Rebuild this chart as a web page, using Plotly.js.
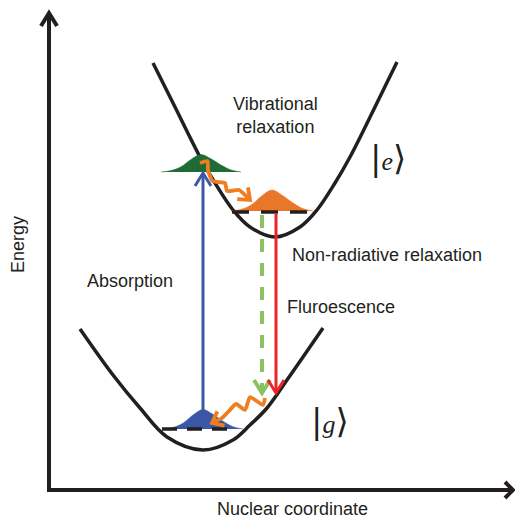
<!DOCTYPE html>
<html><head><meta charset="utf-8">
<script src="https://cdn.plot.ly/plotly-3.0.1.min.js"></script>
<style>html,body{margin:0;padding:0;background:#fff}</style>
</head><body><div id="chart" style="width:515px;height:519px"></div>
<script>
// ---- data (nuclear coordinate, energy) in arbitrary units ----
const excitedX = [2.08, 2.52, 3.02, 3.32, 3.68, 4.02, 4.52, 5.02, 5.36, 5.72, 6.02, 6.52, 6.96];
const excitedE = [8.54, 7.66, 6.66, 6.14, 5.60, 5.26, 5.06, 5.26, 5.60, 6.14, 6.66, 7.66, 8.56];
const groundX  = [0.62, 1.28, 1.82, 2.36, 3.08, 3.68, 4.02, 4.36, 4.76, 5.48];
const groundE  = [3.22, 2.30, 1.64, 1.06, 0.80, 1.00, 1.30, 1.64, 2.20, 3.24];

// vibrational levels [x0, x1, E]
const excitedLevel = [3.66, 5.18, 5.56];
const groundLevel  = [2.26, 3.62, 1.22];

// wavepacket profile (fraction of half width, fraction of peak)
const packetDx = [-1, -0.75, -0.5, -0.25, 0, 0.25, 0.5, 0.75, 1];
const packetH  = [0, 0.08, 0.3, 0.72, 1, 0.75, 0.4, 0.12, 0];
// packets: center, base energy, height, half width
const greenPacket  = [3.04, 6.36, 0.35, 0.80];
const orangePacket = [4.46, 5.58, 0.42, 0.82];
const bluePacket   = [3.08, 1.22, 0.39, 0.80];

// vertical transitions [x, E from, E to]
const absorption   = [3.08, 1.60, 6.34];
const fluorescence = [4.54, 5.54, 1.94];
const nonRadiative = [4.26, 5.50, 1.94];

// wavy vibrational relaxation paths
const topWaveX = [3.02, 3.17, 3.18, 3.27, 3.52, 3.56, 3.80, 4.02];
const topWaveY = [6.54, 6.58, 6.40, 6.18, 6.14, 5.98, 6.00, 5.80];
const botWaveX = [4.32, 4.28, 4.02, 3.92, 3.74, 3.58, 3.46, 3.26];
const botWaveY = [1.84, 1.70, 1.86, 1.60, 1.72, 1.56, 1.44, 1.34];

const BLACK = '#231f20';
const PXU = 50; // pixels per unit (for arrowhead geometry)

function chevron(tx, ty, fx, fy, lenPx, halfPx) {
  let ux = (tx - fx), uy = (ty - fy);
  const L = Math.hypot(ux, uy); ux /= L; uy /= L;
  const nx = -uy, ny = ux;
  const l = lenPx / PXU, h = halfPx / PXU;
  return {
    x: [tx - ux * l + nx * h, tx, tx - ux * l - nx * h],
    y: [ty - uy * l + ny * h, ty, ty - uy * l - ny * h]
  };
}
function line(x, y, color, width, extra) {
  return {type: 'scatter', mode: 'lines', x: x, y: y,
    line: Object.assign({color: color, width: width}, (extra || {}).line || {}),
    hoverinfo: 'skip'};
}
function packet(p, color) {
  const xs = packetDx.map(d => p[0] + d * p[3]);
  const ys = packetH.map(h => p[1] + h * p[2]);
  return {type: 'scatter', mode: 'lines', x: xs, y: ys, fill: 'toself', fillcolor: color,
    line: {color: color, width: 0.5, shape: 'spline', smoothing: 1}, hoverinfo: 'skip'};
}

const traces = [];
// axes
traces.push(line([0, 0, 9.28], [9.54, 0, 0], BLACK, 4));
let c = chevron(0, 9.54, 0, 0, 13, 8); traces.push(line(c.x, c.y, BLACK, 4));
c = chevron(9.28, 0, 0, 0, 8, 8); traces.push(line(c.x, c.y, BLACK, 4));

// potential curves
traces.push(line(excitedX, excitedE, BLACK, 3.5, {line: {shape: 'spline', smoothing: 1}}));
traces.push(line(groundX, groundE, BLACK, 3.5, {line: {shape: 'spline', smoothing: 1}}));

// packets
traces.push(packet(greenPacket, '#1d6b35'));
traces.push(packet(orangePacket, '#e8772a'));
traces.push(packet(bluePacket, '#3a56a6'));

// levels
traces.push(line([excitedLevel[0], excitedLevel[1]], [excitedLevel[2], excitedLevel[2]], BLACK, 3.5, {line: {dash: '17px,12px'}}));
traces.push(line([groundLevel[0], groundLevel[1]], [groundLevel[2], groundLevel[2]], BLACK, 3.5, {line: {dash: '15px,10px'}}));

// vertical arrows
function vArrow(a, color, dash, w) {
  traces.push(line([a[0], a[0]], [a[1], a[2]], color, w, dash ? {line: {dash: dash}} : null));
  const ch = chevron(a[0], a[2], a[0], a[1], 13, 8);
  traces.push(line(ch.x, ch.y, color, w));
}
vArrow(absorption, '#3b59a8', null, 3);
vArrow(nonRadiative, '#8cc163', '13px,11px', 4);
vArrow(fluorescence, '#ec2227', null, 3);

// wavy arrows
function wave(xs, ys) {
  traces.push(line(xs, ys, '#ef7d22', 3.8, {line: {shape: 'spline', smoothing: 0.5}}));
  const n = xs.length;
  const ch = chevron(xs[n - 1], ys[n - 1], xs[n - 2], ys[n - 2], 10, 8);
  traces.push(line(ch.x, ch.y, '#ef7d22', 3.8));
}
wave(topWaveX, topWaveY);
wave(botWaveX, botWaveY);

const sans = 'Liberation Sans, Arial, Helvetica, sans-serif';
const txt = (x, y, t, anchor, extra) => Object.assign({x: x, y: y, xref: 'x', yref: 'y', text: t,
  showarrow: false, xanchor: anchor, yanchor: 'middle', font: {family: sans, size: 18, color: BLACK}}, extra || {});
const ket = s => '<span style="font-size:34px">|</span><span style="font-family:Liberation Serif;font-style:italic;font-size:26px">' + s + '</span><span style="font-size:34px">⟩</span>';
const serif = {family: 'DejaVu Serif, Liberation Serif, serif', size: 24, color: BLACK};

const annotations = [
  txt(4.52, 7.50, 'Vibrational<br>relaxation', 'center'),
  txt(4.82, 4.70, 'Non-radiative relaxation', 'left'),
  txt(4.72, 3.66, 'Fluroescence', 'left'),
  txt(0.72, 4.18, 'Absorption', 'left'),
  txt(-0.62, 4.90, 'Energy', 'center', {textangle: -90}),
  txt(4.86, -0.38, 'Nuclear coordinate', 'center'),
  txt(6.78, 6.64, ket('e'), 'center', {font: serif}),
  txt(5.62, 1.38, ket('g'), 'center', {font: serif})
];

const layout = {
  width: 515, height: 519,
  margin: {l: 0, r: 0, t: 0, b: 0},
  paper_bgcolor: '#fff', plot_bgcolor: '#fff',
  showlegend: false, hovermode: false,
  xaxis: {range: [-0.98, 9.32], visible: false, fixedrange: true},
  yaxis: {range: [-0.58, 9.80], visible: false, fixedrange: true},
  annotations: annotations
};
Plotly.newPlot('chart', traces, layout, {staticPlot: true, displayModeBar: false});
</script></body></html>
